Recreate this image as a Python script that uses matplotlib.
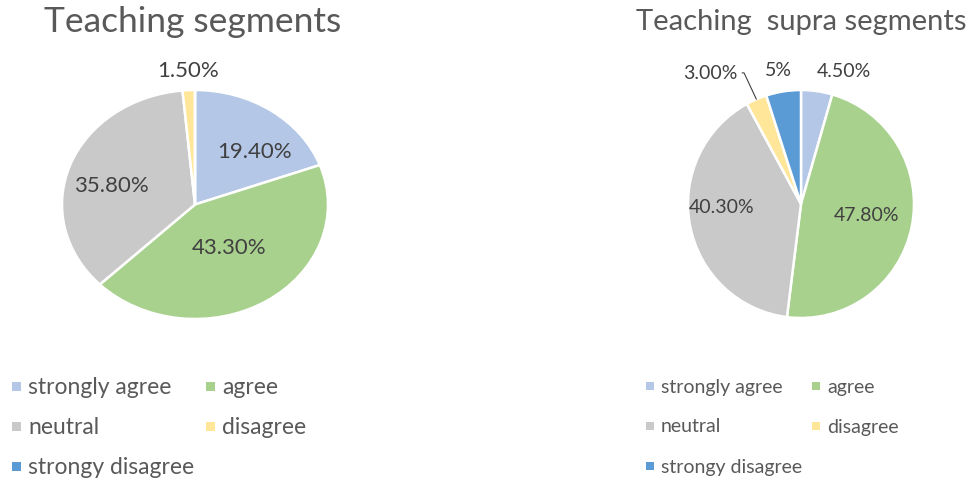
"""
Two Likert-scale pie charts: Teaching segments vs. Teaching supra segments.
"""

import numpy as np
import matplotlib
matplotlib.use("Agg")
import matplotlib.pyplot as plt
from matplotlib.patches import Rectangle

plt.rcParams['font.family'] = ['Lato', 'DejaVu Sans']

# Category names (shared legend) and colours
categories = ['strongly agree', 'agree', 'neutral', 'disagree', 'strongy disagree']
colors = ['#B4C7E7', '#A9D18E', '#C9C9C9', '#FFE699', '#5B9BD5']

# Left chart
seg_title = 'Teaching segments'
seg_values = [19.4, 43.3, 35.8, 1.5, 0.0]
seg_labels = ['19.40%', '43.30%', '35.80%', '1.50%', '']

# Right chart
supra_title = 'Teaching  supra segments'
supra_values = [4.5, 47.8, 40.3, 3.0, 5.0]
supra_labels = ['4.50%', '47.80%', '40.30%', '3.00%', '5%']


def draw_pie(fig, rect, values, labels, label_r, label_shift, fontsize, leader=None):
    """Draw one pie inside rect (figure fraction) and place its data labels."""
    ax = fig.add_axes(rect)
    wedges, _ = ax.pie(values, colors=colors, startangle=90, counterclock=False,
                       wedgeprops=dict(edgecolor='white', linewidth=1.8))
    ax.set_aspect('auto')
    ax.set_xlim(-1, 1)
    ax.set_ylim(-1, 1)
    ax.axis('off')

    for i, (w, lab) in enumerate(zip(wedges, labels)):
        if not lab:
            continue
        mid = np.deg2rad((w.theta1 + w.theta2) / 2 + label_shift[i])
        x, y = label_r[i] * np.cos(mid), label_r[i] * np.sin(mid)
        if leader is not None and i == leader:
            # label outside with a bent leader line back to the wedge edge
            edge = np.deg2rad((w.theta1 + w.theta2) / 2)
            ax.annotate(lab, xy=(np.cos(edge), np.sin(edge)), xytext=(x, y),
                        ha='center', va='center', fontsize=fontsize, color='#404040',
                        annotation_clip=False,
                        arrowprops=dict(arrowstyle='-', color='#404040', lw=0.8,
                                        shrinkA=1, shrinkB=0,
                                        connectionstyle='angle,angleA=0,angleB=115,rad=0'))
        else:
            ax.text(x, y, lab, ha='center', va='center', fontsize=fontsize,
                    color='#404040', clip_on=False)
    return ax


def draw_legend(fig, x0, col2, y_rows, fontsize, sq):
    """Excel-style legend: small squares, two columns filled row by row."""
    W, H = fig.get_size_inches() * fig.dpi
    for i, (name, c) in enumerate(zip(categories, colors)):
        row, col = divmod(i, 2)
        x = x0 if col == 0 else col2
        y = y_rows[row]
        fig.patches.append(Rectangle((x / W, 1 - (y + sq / 2) / H), sq / W, sq / H,
                                     transform=fig.transFigure, facecolor=c,
                                     edgecolor='none'))
        fig.text((x + sq + 7) / W, 1 - y / H, name, fontsize=fontsize,
                 color='#595959', ha='left', va='center')


fig = plt.figure(figsize=(9.74, 4.81), dpi=100)
W, H = 974, 481

# left pie: centre (195, 205) px, radii 133 x 115 px
draw_pie(fig, [(195 - 133) / W, (481 - 320) / H, 266 / W, 229 / H],
         seg_values, seg_labels,
         label_r=[0.65, 0.45, 0.65, 1.18, 1.0],
         label_shift=[-9, 2, 5, 0, 0], fontsize=16)
fig.text(193 / W, 1 - 22 / H, seg_title, ha='center', va='center',
         fontsize=25.5, color='#595959')
draw_legend(fig, 12, 206, [387, 427, 467], fontsize=16.5, sq=9)

# right pie: centre (801, 205) px, radius ~113 px
draw_pie(fig, [(801 - 113) / W, (481 - 319) / H, 226 / W, 228 / H],
         supra_values, supra_labels,
         label_r=[1.23, 0.59, 0.70, 1.40, 1.20],
         label_shift=[-10, 3, -9, 11.5, 0.5], fontsize=14, leader=3)
fig.text(801 / W, 1 - 22 / H, supra_title, ha='center', va='center',
         fontsize=21, color='#595959')
draw_legend(fig, 646, 812, [387, 427, 467], fontsize=14, sq=8)

fig.savefig('out.png', dpi=100, facecolor='white')
